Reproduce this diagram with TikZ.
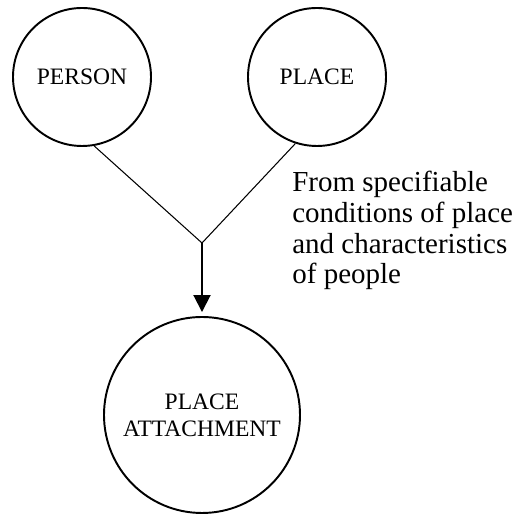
\documentclass[tikz,border=0pt]{standalone}
\usepackage{fontspec}
\setmainfont{Liberation Serif}
\usetikzlibrary{arrows.meta}
\tikzset{
  entity/.style={draw,circle,line width=1.1pt,inner sep=0pt,align=center,
    font=\fontsize{13.4}{15.4}\selectfont},
  link/.style={line width=0.6pt},
}
\begin{document}
\begin{tikzpicture}
  \useasboundingbox (0,0) rectangle (10.3,10.28);
  \node[entity,minimum size=2.76cm] (person) at (1.64,8.74) {PERSON};
  \node[entity,minimum size=2.76cm] (place) at (6.34,8.74) {PLACE};
  \node[entity,minimum size=3.92cm] (attach) at (4.04,1.98) {PLACE\\ATTACHMENT};
  \coordinate (J) at (4.04,5.42);

  \draw[link] (person.-80) -- (J) -- (place.-108);
  \draw[-{Triangle[length=0.34cm,width=0.34cm]},line width=1.1pt,shorten >=0.08cm] (J) -- (attach.north);

  \node[anchor=base west,align=left,inner sep=0pt,font=\fontsize{16.5}{17.5}\selectfont] (note) at (5.84,4.60)
    {From specifiable\\conditions of place\\and characteristics\\of people};
\end{tikzpicture}
\end{document}
